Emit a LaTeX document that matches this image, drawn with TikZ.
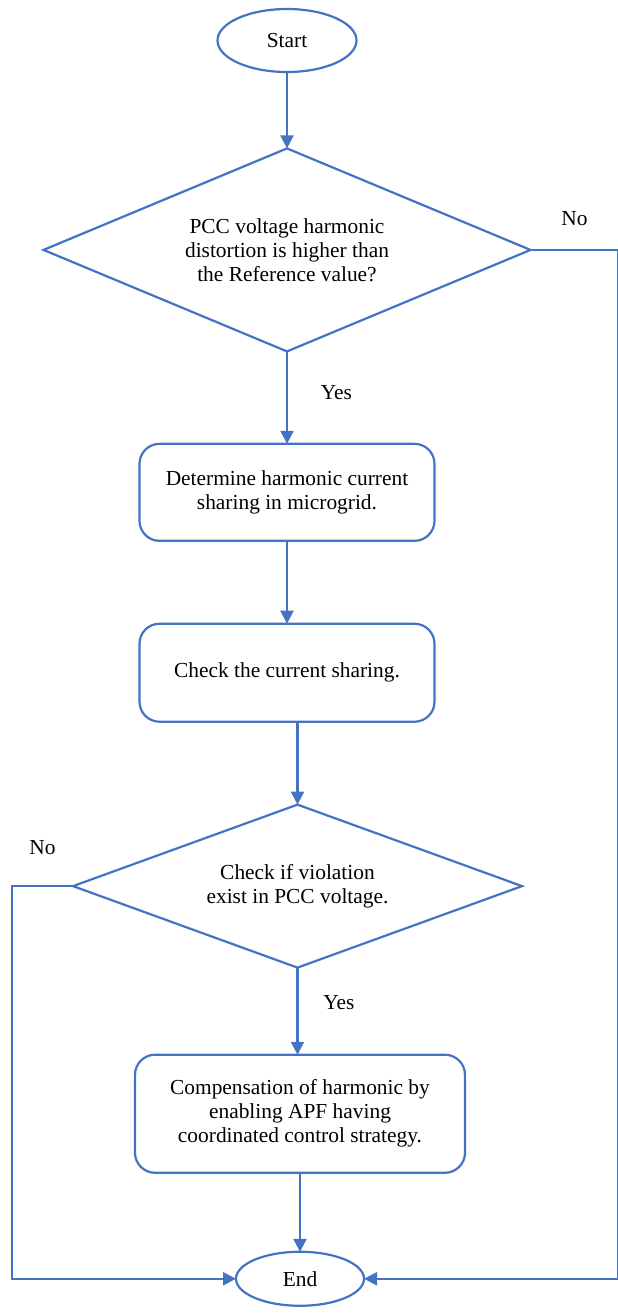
\documentclass[tikz,border=0pt]{standalone}
\usepackage{fontspec}
\setmainfont{Liberation Serif}
\usepackage{tikz}
\usetikzlibrary{calc,shapes.geometric,arrows.meta}
\definecolor{flowblue}{HTML}{4472C4}
\tikzstyle{terminator} = [ellipse, draw=flowblue, line width=1.1pt, text centered, inner sep=0pt, outer sep=0pt]
\tikzstyle{process} = [rectangle, draw=flowblue, line width=1.1pt, text centered, rounded corners=10pt, outer sep=0pt]
\tikzstyle{decision} = [diamond, draw=flowblue, line width=1.1pt, text centered, inner sep=0pt, outer sep=0pt]
\tikzstyle{connector} = [line width=1.1pt, draw=flowblue, -{Triangle[width=6.5pt,length=6.5pt]}]

\begin{document}
\begin{tikzpicture}[x=0.5pt, y=-0.5pt, font=\fontsize{10.7}{12}\selectfont]
            \useasboundingbox (0,0) rectangle (617,1313);
            \node (start) [terminator, minimum width=69.5pt, minimum height=31.5pt] at (287,40.5) {Start};
            \node (check) [decision, below of = start, yshift = -2.68cm, align=center, aspect=2.4,
                minimum width=243.5pt, minimum height=101.5pt] {
                PCC voltage harmonic\\
                distortion is higher than\\
                the Reference value?
            };
            \node (share) [process, below of = check, yshift = -3.26cm, align=center,
                minimum width=147.5pt, minimum height=48.5pt] {
                Determine harmonic current\\
                sharing in microgrid.
            };
            \node (verify) [process, below of = share, yshift = -2.17cm, align=center,
                minimum width=147.5pt, minimum height=49pt] {Check the current sharing.};
            \node (violation) [decision, below of = verify, xshift = 5.25pt, yshift = -2.75cm, align=center, aspect=2.75,
                minimum width=224.5pt, minimum height=81.5pt] {
                Check if violation\\
                exist in PCC voltage.
            };
            \node (apf) [process, below of = violation, xshift = 1.25pt, yshift = -3cm, align=center,
                minimum width=165pt, minimum height=59pt] {
                Compensation of harmonic by\\
                enabling APF having\\
                coordinated control strategy.
            };
            \node (end) [terminator, minimum width=64pt, minimum height=27pt, below of = apf, yshift = -1.9cm] {End};
            \coordinate (rrail) at (618.5,0);
            \coordinate (lrail) at (12,0);
            \draw [connector] (start) -- (check);
            \draw [connector] (check.south) -- node[pos=0.45, right=13pt] {Yes} (check.south |- share.north);
            \draw [connector] (share) -- (verify);
            \draw [connector] (verify.south -| violation.north) -- (violation.north);
            \draw [connector] (violation.south) -- node[pos=0.4, right=9pt] {Yes} (violation.south |- apf.north);
            \draw [connector] (apf.south -| end.north) -- (end.north);
            \draw [connector] (check.east) -| node[pos=0.25, above=8pt] {No} (rrail |- end.east) -- (end.east);
            \draw [connector] (violation.west) -| node[pos=0.25, above=12pt] {No} (lrail |- end.west) -- (end.west);
        \end{tikzpicture}
\end{document}
